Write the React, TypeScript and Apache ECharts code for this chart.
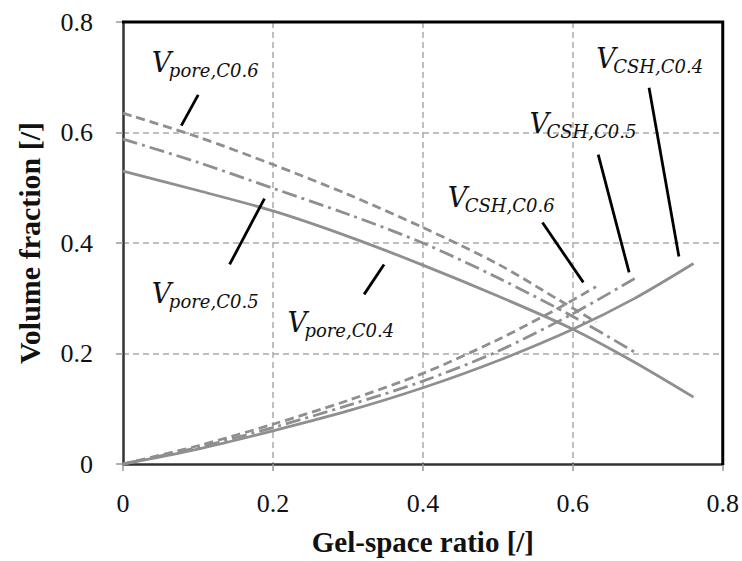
import React, { useEffect, useRef } from "react";
import * as echarts from "echarts";

// ---- data ----
const poreC04X = [0, 0.1, 0.2, 0.3, 0.4, 0.5, 0.6, 0.68, 0.761];
const poreC04Y = [0.53, 0.495, 0.458, 0.412, 0.36, 0.304, 0.244, 0.186, 0.121];
const poreC05X = [0, 0.1, 0.2, 0.3, 0.4, 0.5, 0.6, 0.683];
const poreC05Y = [0.588, 0.546, 0.499, 0.452, 0.4, 0.337, 0.267, 0.202];
const poreC06X = [0, 0.1, 0.2, 0.3, 0.4, 0.5, 0.585, 0.631];
const poreC06Y = [0.635, 0.592, 0.542, 0.488, 0.428, 0.362, 0.294, 0.257];

const cshC04X = [0, 0.1, 0.2, 0.3, 0.4, 0.5, 0.6, 0.68, 0.761];
const cshC04Y = [0, 0.027, 0.06, 0.096, 0.138, 0.187, 0.244, 0.298, 0.363];
const cshC05X = [0, 0.1, 0.2, 0.3, 0.4, 0.5, 0.6, 0.683];
const cshC05Y = [0, 0.03, 0.066, 0.106, 0.15, 0.204, 0.272, 0.336];
const cshC06X = [0, 0.1, 0.2, 0.3, 0.4, 0.5, 0.578, 0.631];
const cshC06Y = [0, 0.033, 0.072, 0.115, 0.164, 0.225, 0.28, 0.321];

const xTicks = [0, 0.2, 0.4, 0.6, 0.8];
const yTicks = [0, 0.2, 0.4, 0.6, 0.8];

// annotation texts and their anchors (data coordinates)
const annoSub = ["pore,C0.6", "pore,C0.5", "pore,C0.4", "CSH,C0.6", "CSH,C0.5", "CSH,C0.4"];
const annoAnchor: number[][] = [
  [0.0385, 0.7097],
  [0.0385, 0.2925],
  [0.2193, 0.2402],
  [0.4332, 0.4659],
  [0.5422, 0.5995],
  [0.6312, 0.7169],
];
const leaderFrom: number[][] = [
  [0.1003, 0.668],
  [0.1887, 0.4804],
  [0.3482, 0.3612],
  [0.5595, 0.437],
  [0.6339, 0.5598],
  [0.7017, 0.6808],
];
const leaderTo: number[][] = [
  [0.0778, 0.6124],
  [0.1422, 0.3612],
  [0.3216, 0.307],
  [0.614, 0.3287],
  [0.6751, 0.3467],
  [0.7415, 0.3756],
];

const pair = (xs: number[], ys: number[]) => xs.map((x, i) => [x, ys[i]]);

const LINE_COLOR = "#8f8f8f";
const SOLID: any = "solid";
const DASHED: any = [9, 5];
const DASHDOT: any = [15, 5, 3, 5];
const SERIF = "'Liberation Serif', 'Times New Roman', Times, serif";
const MATH = "'DejaVu Serif', serif";

export default function App() {
  const ref = useRef<HTMLDivElement>(null);
  useEffect(() => {
    if (!ref.current) return;
    const chart = echarts.init(ref.current, undefined, { renderer: "svg" });
    const mk = (name: string, xs: number[], ys: number[], type: any) => ({
      name,
      type: "line",
      data: pair(xs, ys),
      showSymbol: false,
      smooth: 0.3,
      lineStyle: { color: LINE_COLOR, width: 2.8, type },
      z: 3,
    });
    const axisFont = { fontFamily: SERIF, fontSize: 26, color: "#111" };
    const split = { show: true, showMinLine: false, showMaxLine: false, lineStyle: { color: "#aaa", width: 1.5, type: [6, 4] } };
    chart.setOption({
      animation: false,
      backgroundColor: "#fff",
      textStyle: { fontFamily: SERIF },
      grid: {
        left: 123,
        top: 22,
        width: 602,
        height: 443,
        show: false,
      },
      xAxis: {
        type: "value",
        min: xTicks[0],
        max: xTicks[xTicks.length - 1],
        interval: 0.2,
        name: "Gel-space ratio [/]",
        nameLocation: "middle",
        nameGap: 63,
        nameTextStyle: { fontFamily: SERIF, fontSize: 29, fontWeight: "bold", color: "#111" },
        axisLine: { show: true, onZero: false, lineStyle: { color: "#333", width: 2.5 } },
        axisTick: { show: true, length: 7, lineStyle: { color: "#999", width: 1.5 } },
        axisLabel: { ...axisFont, margin: 26, formatter: (v: number) => String(+v.toFixed(1)) },
        splitLine: split,
      },
      yAxis: {
        type: "value",
        min: yTicks[0],
        max: yTicks[yTicks.length - 1],
        interval: 0.2,
        name: "Volume fraction [/]",
        nameLocation: "middle",
        nameGap: 79,
        nameTextStyle: { fontFamily: SERIF, fontSize: 30, fontWeight: "bold", color: "#111" },
        axisLine: { show: true, onZero: false, lineStyle: { color: "#333", width: 2.5 } },
        axisTick: { show: true, length: 7, lineStyle: { color: "#999", width: 1.5 } },
        axisLabel: { ...axisFont, margin: 30, formatter: (v: number) => String(+v.toFixed(1)) },
        splitLine: split,
      },
      series: [
        mk("Vpore,C0.4", poreC04X, poreC04Y, SOLID),
        mk("Vpore,C0.5", poreC05X, poreC05Y, DASHDOT),
        mk("Vpore,C0.6", poreC06X, poreC06Y, DASHED),
        mk("VCSH,C0.4", cshC04X, cshC04Y, SOLID),
        mk("VCSH,C0.5", cshC05X, cshC05Y, DASHDOT),
        mk("VCSH,C0.6", cshC06X, cshC06Y, DASHED),
      ],
    });

    const toPx = (p: number[]) => chart.convertToPixel({ gridIndex: 0 }, p) as number[];
    const elements: any[] = [];
    // plot frame: top and right borders
    const tl = toPx([xTicks[0], yTicks[yTicks.length - 1]]);
    const br = toPx([xTicks[xTicks.length - 1], yTicks[0]]);
    elements.push({
      type: "polyline",
      shape: { points: [[tl[0] - 1, tl[1]], [br[0], tl[1]], [br[0], br[1] + 1]] },
      style: { stroke: "#000", lineWidth: 3, fill: "none" },
      z: 5,
    });
    annoSub.forEach((sub, i) => {
      const a = toPx(annoAnchor[i]);
      const f = toPx(leaderFrom[i]);
      const t = toPx(leaderTo[i]);
      elements.push({
        type: "line",
        shape: { x1: f[0], y1: f[1], x2: t[0], y2: t[1] },
        style: { stroke: "#000", lineWidth: 2.8 },
        z: 10,
      });
      elements.push({
        type: "text",
        x: a[0],
        y: a[1] - 9,
        style: {
          text: "V",
          fontFamily: MATH,
          fontStyle: "italic",
          fontSize: 27,
          fill: "#111",
          textAlign: "left",
          align: "left",
          textVerticalAlign: "middle",
          verticalAlign: "middle",
        },
        z: 10,
      });
      elements.push({
        type: "text",
        x: a[0] + 17,
        y: a[1] - 1,
        style: {
          text: sub,
          fontFamily: MATH,
          fontStyle: "italic",
          fontSize: 18,
          fill: "#111",
          textAlign: "left",
          align: "left",
          textVerticalAlign: "middle",
          verticalAlign: "middle",
        },
        z: 10,
      });
    });
    chart.setOption({ graphic: { elements } });

    return () => chart.dispose();
  }, []);
  return (
    <div
      ref={ref}
      style={{ position: "absolute", left: 0, top: 0, width: 742, height: 561, background: "#fff" }}
    />
  );
}
